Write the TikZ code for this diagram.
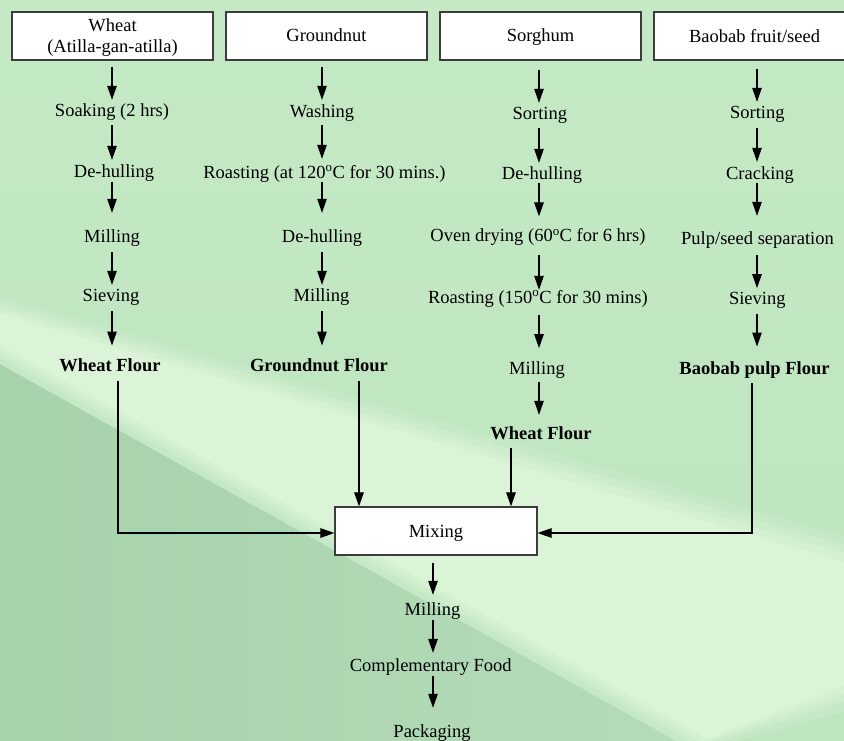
\documentclass[tikz,border=0pt]{standalone}
\usepackage{fontspec}
\setmainfont{Liberation Serif}
\usetikzlibrary{arrows.meta}
\definecolor{bgA}{RGB}{196,233,196}
\definecolor{bgB}{RGB}{190,228,192}
\definecolor{bandI}{RGB}{219,243,214}
\definecolor{darkL}{RGB}{166,210,172}
\definecolor{darkR}{RGB}{182,220,185}
\definecolor{boxline}{RGB}{60,60,60}
\begin{document}
\begin{tikzpicture}[x=1pt,y=-1pt,
  every node/.style={font=\fontsize{18.5}{20.5}\selectfont},
  lbl/.style={anchor=base, inner xsep=0pt, inner ysep=0pt, text height=13pt, text depth=4pt},
  bld/.style={lbl, font=\fontsize{18.5}{20.5}\selectfont\bfseries},
  srcbox/.style={draw=boxline, line width=1.2pt, fill=white, minimum width=201pt, minimum height=48pt, inner sep=0pt, align=center, font=\fontsize{18.5}{21.5}\selectfont},
  arr/.style={line width=1.1pt, -{Triangle[length=14pt,width=9.5pt]}},
  ]
\clip (0,0) rectangle (844,740);
% background
\fill[top color=bgA, bottom color=bgB] (0,0) rectangle (844,740);
\begin{scope}
  \clip (0,345) -- (720,745) -- (0,745) -- cycle;
  \fill[left color=darkL, right color=darkR] (0,340) rectangle (720,745);
\end{scope}
\fill[bandI!25!bgB] (0,296) -- (844,536) -- (844,712) -- (696,752) -- (0,364) -- cycle;
\fill[bandI!50!bgB] (0,302) -- (844,545) -- (844,702) -- (700,747) -- (0,357) -- cycle;
\fill[bandI!75!bgB] (0,308) -- (844,553) -- (844,694) -- (704,743) -- (0,351) -- cycle;
\fill[bandI] (0,313) -- (844,562) -- (844,686) -- (708,739) -- (0,345) -- cycle;

% column guides
\coordinate (cw) at (112,0);
\coordinate (cg) at (322,0);
\coordinate (cs) at (539,0);
\coordinate (cb) at (757,0);
\coordinate (cm) at (433,0);
\coordinate (xw) at (118,0);
\coordinate (xg) at (359,0);
\coordinate (xs) at (511,0);
\coordinate (xb) at (752,0);

% source boxes
\node[srcbox, text depth=1pt] (w0) at (112.5,36) {Wheat\\(Atilla-gan-atilla)};
\node[srcbox, text depth=1pt] (g0) at (326.5,36) {Groundnut};
\node[srcbox, text depth=1pt] (s0) at (540.5,36) {Sorghum};
\node[srcbox, text depth=1pt] (b0) at (754.5,36) {Baobab fruit/seed};

% wheat column
\node[lbl] (w1) at (112,116.3) {Soaking (2 hrs)};
\node[lbl] (w2) at (114,177.3) {De-hulling};
\node[lbl] (w3) at (112,242.3) {Milling};
\node[lbl] (w4) at (111,301.3) {Sieving};
\node[bld] (w5) at (110,371.3) {Wheat Flour};

% groundnut column
\node[lbl] (g1) at (322,117.3) {Washing};
\node[lbl] (g2) at (324.5,178) {Roasting (at 120\textsuperscript{o}C for 30 mins.)};
\node[lbl] (g3) at (322,242.3) {De-hulling};
\node[lbl] (g4) at (321.5,301.3) {Milling};
\node[bld] (g5) at (319,371.3) {Groundnut Flour};

% sorghum column
\node[lbl] (s1) at (539.8,119) {Sorting};
\node[lbl] (s2) at (542,179) {De-hulling};
\node[lbl] (s3) at (538,241.6) {Oven drying (60\textsuperscript{o}C for 6 hrs)};
\node[lbl] (s4) at (538,303) {Roasting (150\textsuperscript{o}C for 30 mins)};
\node[lbl] (s5) at (537,374) {Milling};
\node[bld] (s6) at (541,439.6) {Wheat Flour};

% baobab column
\node[lbl] (b1) at (757.3,118.3) {Sorting};
\node[lbl] (b2) at (760,179) {Cracking};
\node[lbl] (b3) at (757.5,244.6) {Pulp/seed separation};
\node[lbl] (b4) at (757.3,304) {Sieving};
\node[bld] (b5) at (754.5,374) {Baobab pulp Flour};

% mixing and after
\node[srcbox, minimum width=202pt, text depth=0pt] (mix) at (436,531) {Mixing};
\node[lbl] (m1) at (432.5,615.3) {Milling};
\node[lbl] (m2) at (430.8,671.3) {Complementary Food};
\node[lbl] (m3) at (432,737.3) {Packaging};

% wheat arrows
\draw[arr, shorten <=6pt, shorten >=3.3pt] (cw |- w0.south) -- (cw |- w1.north);
\draw[arr, shorten <=4.7pt, shorten >=4.3pt] (cw |- w1.south) -- (cw |- w2.north);
\draw[arr, shorten >=16.3pt] (cw |- w2.south) -- (cw |- w3.north);
\draw[arr, shorten <=5.7pt, shorten >=3.3pt] (cw |- w3.south) -- (cw |- w4.north);
\draw[arr, shorten <=5.7pt, shorten >=12.6pt] (cw |- w4.south) -- (cw |- w5.north);

% groundnut arrows
\draw[arr, shorten <=6pt, shorten >=4.3pt] (cg |- g0.south) -- (cg |- g1.north);
\draw[arr, shorten <=3.7pt, shorten >=6pt] (cg |- g1.south) -- (cg |- g2.north);
\draw[arr, shorten >=16.3pt] (cg |- g2.south) -- (cg |- g3.north);
\draw[arr, shorten <=5.4pt, shorten >=3.3pt] (cg |- g3.south) -- (cg |- g4.north);
\draw[arr, shorten <=5.7pt, shorten >=12.6pt] (cg |- g4.south) -- (cg |- g5.north);

% sorghum arrows
\draw[arr, shorten <=9pt, shorten >=3pt] (cs |- s0.south) -- (cs |- s1.north);
\draw[arr, shorten <=5pt, shorten >=3pt] (cs |- s1.south) -- (cs |- s2.north);
\draw[arr, shorten >=12pt] (cs |- s2.south) -- (cs |- s3.north);
\draw[arr, shorten <=9.4pt] (cs |- s3.south) -- (cs |- s4.north);
\draw[arr, shorten <=8pt, shorten >=12.7pt] (cs |- s4.south) -- (cs |- s5.north);
\draw[arr, shorten <=3.7pt, shorten >=11.6pt] (cs |- s5.south) -- (cs |- s6.north);

% baobab arrows
\draw[arr, shorten <=8pt, shorten >=3.3pt] (cb |- b0.south) -- (cb |- b1.north);
\draw[arr, shorten <=5.7pt, shorten >=4pt] (cb |- b1.south) -- (cb |- b2.north);
\draw[arr, shorten >=15.6pt] (cb |- b2.south) -- (cb |- b3.north);
\draw[arr, shorten <=5.7pt, shorten >=2.7pt] (cb |- b3.south) -- (cb |- b4.north);
\draw[arr, shorten <=5.3pt, shorten >=14.3pt] (cb |- b4.south) -- (cb |- b5.north);

% converging connectors
\draw[arr, shorten <=5.7pt] (xw |- w5.south) |- ([yshift=-2pt]mix.west);
\draw[arr, shorten <=5.7pt] (xg |- g5.south) -- (xg |- mix.north);
\draw[arr, shorten <=4.4pt] (xs |- s6.south) -- (xs |- mix.north);
\draw[arr, shorten <=4.7pt] (xb |- b5.south) |- ([yshift=-2pt]mix.east);

% final chain
\draw[arr, shorten <=7pt, shorten >=7.3pt] (cm |- mix.south) -- (cm |- m1.north);
\draw[arr, shorten <=0.7pt, shorten >=5.3pt] (cm |- m1.south) -- (cm |- m2.north);
\draw[arr, shorten >=16.3pt] (cm |- m2.south) -- (cm |- m3.north);
\end{tikzpicture}
\end{document}
